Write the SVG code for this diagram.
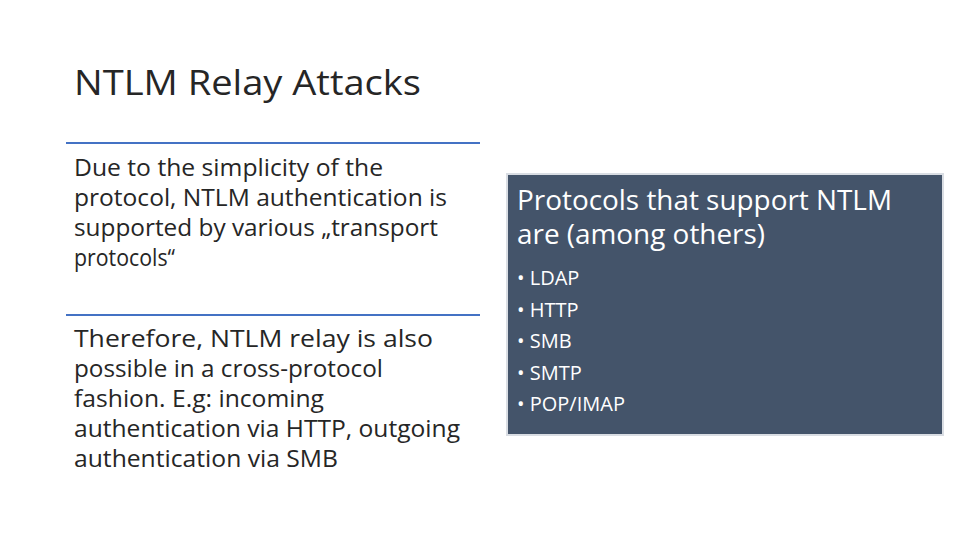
<svg xmlns="http://www.w3.org/2000/svg" width="960" height="540" viewBox="0 0 960 540">
<style>
text{font-family:"Open Sans","Liberation Sans",sans-serif;}
.b{font-size:23px;fill:#262626;}
.w{fill:#fff;}
.l{stroke:#4472c4;stroke-width:2;}
</style>
<rect width="960" height="540" fill="#fff"/>
<g id="title"><text x="74" y="95" font-size="35" fill="#262626" textLength="347" lengthAdjust="spacingAndGlyphs">NTLM Relay Attacks</text></g>
<g id="connectors">
<line class="l" x1="66" y1="143" x2="480" y2="143"/>
<line class="l" x1="66" y1="315" x2="480" y2="315"/>
</g>
<g id="left1">
<text class="b" x="74" y="176" textLength="309" lengthAdjust="spacingAndGlyphs">Due to the simplicity of the</text>
<text class="b" x="74" y="206" textLength="373" lengthAdjust="spacingAndGlyphs">protocol, NTLM authentication is</text>
<text class="b" x="74" y="236" textLength="364" lengthAdjust="spacingAndGlyphs">supported by various „transport</text>
<text class="b" x="74" y="266" textLength="101" lengthAdjust="spacingAndGlyphs">protocols“</text>
</g>
<g id="left2">
<text class="b" x="74" y="347" textLength="359" lengthAdjust="spacingAndGlyphs">Therefore, NTLM relay is also</text>
<text class="b" x="74" y="377" textLength="309" lengthAdjust="spacingAndGlyphs">possible in a cross-protocol</text>
<text class="b" x="74" y="407" textLength="250" lengthAdjust="spacingAndGlyphs">fashion. E.g: incoming</text>
<text class="b" x="74" y="437" textLength="386" lengthAdjust="spacingAndGlyphs">authentication via HTTP, outgoing</text>
<text class="b" x="74" y="467" textLength="264" lengthAdjust="spacingAndGlyphs">authentication via SMB</text>
</g>
<g id="box">
<rect x="507" y="174" width="436" height="261" fill="#44546a" stroke="#d9dde3" stroke-width="2"/>
<text class="w" x="517" y="210" font-size="27" textLength="375" lengthAdjust="spacingAndGlyphs">Protocols that support NTLM</text>
<text class="w" x="517" y="244" font-size="27" textLength="248" lengthAdjust="spacingAndGlyphs">are (among others)</text>
<text class="w" x="517" y="285" font-size="20">• LDAP</text>
<text class="w" x="517" y="317" font-size="20">• HTTP</text>
<text class="w" x="517" y="348" font-size="20">• SMB</text>
<text class="w" x="517" y="380" font-size="20">• SMTP</text>
<text class="w" x="517" y="411" font-size="20">• POP/IMAP</text>
</g>
</svg>
